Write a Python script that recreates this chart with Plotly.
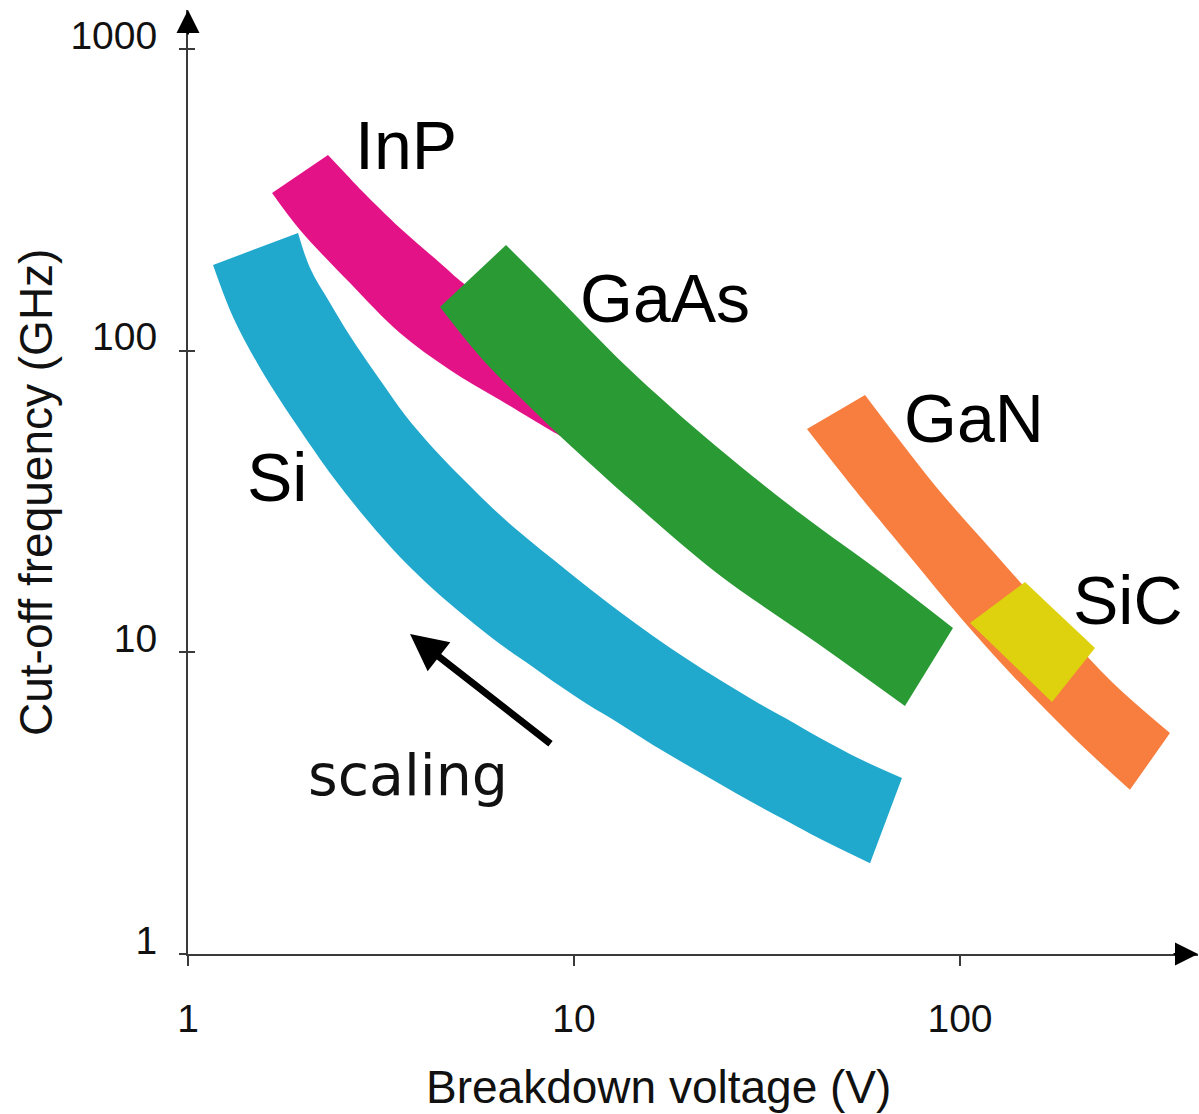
import numpy as np
import plotly.graph_objects as go

# Outline of each material region: upper edge and lower edge, left to right
# (breakdown voltage in V, cut-off frequency in GHz)
si_upper_v = [1.928, 2.071, 2.333, 2.629, 3.145, 3.649, 4.313, 5.283, 6.432, 7.830, 9.198,
              11.00, 13.16, 16.02, 19.62, 23.89, 29.09, 35.63, 43.39, 55.07, 70.74]
si_upper_f = [245.5, 187.9, 143.9, 111.8, 79.9, 61.2, 47.6, 36.4, 28.5, 23.0, 19.48,
              16.22, 13.61, 11.33, 9.50, 8.09, 6.95, 6.01, 5.20, 4.43, 3.83]
si_lower_v = [1.161, 1.308, 1.537, 1.731, 1.951, 2.375, 2.909, 3.541, 4.313, 5.283, 6.432,
              7.830, 9.198, 10.81, 13.16, 16.02, 19.62, 23.89, 29.09, 35.63, 43.39, 58.47]
si_lower_f = [192.3, 129.3, 87.6, 68.6, 54.6, 38.1, 27.5, 20.7, 16.22, 13.00, 10.66,
              8.94, 7.73, 6.74, 5.79, 4.93, 4.23, 3.66, 3.17, 2.76, 2.41, 2.00]

inp_upper_v = [2.305, 2.551, 2.824, 3.541, 4.497, 5.158, 6.432, 8.666, 11.68, 13.56]
inp_upper_f = [445.3, 388.1, 338.3, 255.0, 195.3, 167.6, 136.4, 106.8, 85.0, 76.4]
inp_lower_v = [1.651, 1.951, 2.629, 3.541, 4.773, 6.432, 8.666, 10.18, 12.77]
inp_lower_f = [333.2, 251.2, 167.6, 114.4, 86.3, 68.6, 54.6, 48.7, 41.8]

gaas_upper_v = [6.666, 8.666, 13.72, 23.47, 38.50, 63.18, 95.9]
gaas_upper_f = [224.0, 160.1, 88.3, 47.9, 28.9, 18.18, 12.04]
gaas_lower_v = [4.497, 5.811, 7.830, 9.94, 14.22, 23.47, 42.62, 72.0]
gaas_lower_f = [139.5, 93.1, 63.6, 47.6, 31.5, 18.3, 10.74, 6.64]

gan_upper_v = [56.75, 68.68, 87.2, 112.7, 143.0, 187.1, 249.1, 349.9]
gan_upper_f = [71.3, 51.7, 35.05, 24.1, 17.11, 11.68, 7.91, 5.40]
gan_lower_v = [40.14, 47.45, 56.1, 75.5, 100.0, 137.2, 196.2, 275.6]
gan_lower_f = [55.0, 41.8, 32.0, 20.2, 13.10, 8.35, 5.24, 3.50]

sic_v = [106.2, 147.3, 223.7, 173.1]
sic_f = [12.51, 17.11, 10.34, 6.84]

# Label anchors (V, GHz)
label_text = ["InP", "GaAs", "GaN", "SiC", "Si"]
label_v = [3.67, 17.21, 108.7, 272.3, 1.70]
label_f = [480.6, 149.5, 59.8, 14.91, 38.1]

# Scaling arrow: from tail to head (V, GHz)
scaling_tail = (8.77, 4.93)
scaling_head = (3.76, 11.50)
scaling_text_pos = (3.71, 3.93)

x_ticks = [1, 10, 100]
y_ticks = [1, 10, 100, 1000]

FONT = "Liberation Sans, Arial, sans-serif"

fig = go.Figure()


def band(upper_v, upper_f, lower_v, lower_f, color):
    # lower edge first, then the upper edge filled back down to it
    fig.add_trace(go.Scatter(
        x=lower_v, y=lower_f, mode="lines",
        line=dict(width=0, color=color, shape="spline", smoothing=1.0),
        hoverinfo="skip", showlegend=False))
    fig.add_trace(go.Scatter(
        x=upper_v, y=upper_f, mode="lines", fill="tonexty", fillcolor=color,
        line=dict(width=0, color=color, shape="spline", smoothing=1.0),
        hoverinfo="skip", showlegend=False))


band(si_upper_v, si_upper_f, si_lower_v, si_lower_f, "#21A8CD")
band(inp_upper_v, inp_upper_f, inp_lower_v, inp_lower_f, "#E31387")
band(gaas_upper_v, gaas_upper_f, gaas_lower_v, gaas_lower_f, "#299A34")
band(gan_upper_v, gan_upper_f, gan_lower_v, gan_lower_f, "#F77E3E")
fig.add_trace(go.Scatter(
    x=sic_v, y=sic_f, mode="lines", fill="toself", fillcolor="#DED20E",
    line=dict(width=0, color="#DED20E"), hoverinfo="skip",
    showlegend=False, yaxis="y2"))

lg = np.log10
annotations = []
for t, v, f in zip(label_text, label_v, label_f):
    annotations.append(dict(
        x=lg(v), y=lg(f), xref="x", yref="y", text=t, showarrow=False,
        font=dict(family=FONT, size=68, color="#000"),
        xanchor="center", yanchor="middle"))

# scaling arrow and its caption
annotations.append(dict(
    x=lg(scaling_head[0]), y=lg(scaling_head[1]),
    ax=lg(scaling_tail[0]), ay=lg(scaling_tail[1]),
    xref="x", yref="y", axref="x", ayref="y", text="",
    showarrow=True, arrowhead=2, arrowsize=1.05, arrowwidth=7,
    arrowcolor="#000", standoff=0, startstandoff=0))
annotations.append(dict(
    x=lg(scaling_text_pos[0]), y=lg(scaling_text_pos[1]), xref="x", yref="y",
    text="scaling", showarrow=False,
    font=dict(family="DejaVu Sans, sans-serif", size=57, color="#111"),
    xanchor="center", yanchor="middle"))

# axis arrowheads
annotations.append(dict(
    x=0, y=1, xref="paper", yref="paper", ax=0, ay=26, axref="pixel", ayref="pixel",
    text="", showarrow=True, arrowhead=2, arrowsize=2.3, arrowwidth=2,
    arrowcolor="#000", standoff=0))
annotations.append(dict(
    x=1, y=0, xref="paper", yref="paper", ax=-26, ay=0, axref="pixel", ayref="pixel",
    text="", showarrow=True, arrowhead=2, arrowsize=2.3, arrowwidth=2,
    arrowcolor="#000", standoff=0))

# axis titles
annotations.append(dict(
    x=0.4663, y=-0.1409, xref="paper", yref="paper",
    text="Breakdown voltage (V)", showarrow=False,
    font=dict(family=FONT, size=46, color="#111"),
    xanchor="center", yanchor="middle"))
annotations.append(dict(
    x=-0.1505, y=0.4894, xref="paper", yref="paper",
    text="Cut-off frequency (GHz)", showarrow=False, textangle=-90,
    font=dict(family=FONT, size=46, color="#111"),
    xanchor="center", yanchor="middle"))

x_range = [0, 1010 / 386]
y_range = [0, 944 / 301.67]

fig.update_layout(
    width=1199, height=1114,
    margin=dict(l=188, r=1, t=10, b=160),
    paper_bgcolor="white", plot_bgcolor="white",
    showlegend=False,
    annotations=annotations,
    xaxis=dict(
        type="log", range=x_range, showgrid=False, zeroline=False,
        showline=True, linecolor="#3a3a3a", linewidth=2,
        ticks="outside", ticklen=10, tickwidth=1.5, tickcolor="#3a3a3a",
        tickmode="array", tickvals=x_ticks, ticktext=[str(v) for v in x_ticks],
        tickfont=dict(family=FONT, size=39, color="#111"),
        ticklabelstandoff=19, automargin=False),
    yaxis=dict(
        type="log", range=y_range, showgrid=False, zeroline=False,
        showline=True, linecolor="#3a3a3a", linewidth=2,
        ticks="outside", ticklen=7, tickwidth=1.5, tickcolor="#3a3a3a",
        tickmode="array", tickvals=y_ticks, ticktext=[str(v) for v in y_ticks],
        tickfont=dict(family=FONT, size=39, color="#111"),
        ticklabelshift=-14, ticklabelstandoff=14, automargin=False),
    yaxis2=dict(
        type="log", range=y_range, overlaying="y", side="left", anchor="x",
        showgrid=False, zeroline=False, showline=False,
        ticks="inside", ticklen=7, tickwidth=1.5, tickcolor="#3a3a3a",
        tickmode="array", tickvals=y_ticks, showticklabels=False),
)

fig.write_html("out.html")
